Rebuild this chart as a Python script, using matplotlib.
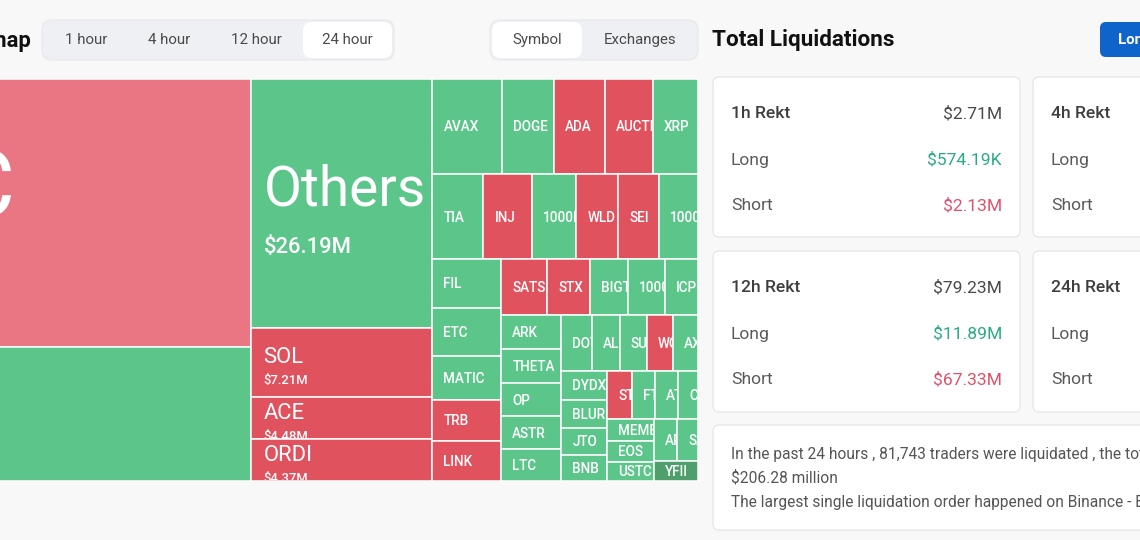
import matplotlib
matplotlib.use('Agg')
import matplotlib.pyplot as plt
from matplotlib.patches import Rectangle, FancyBboxPatch
from matplotlib.transforms import Bbox

plt.rcParams['font.family'] = ['Roboto', 'DejaVu Sans']

# ---------------- data ----------------
symbols = ['BTC', 'ETH', 'Others', 'SOL', 'ACE', 'ORDI',
           'AVAX', 'DOGE', 'ADA', 'AUCTION', 'XRP',
           'TIA', 'INJ', '1000PEPE', 'WLD', 'SEI', '1000BONK',
           'FIL', 'ETC', 'MATIC', 'TRB', 'LINK',
           'SATS', 'STX', 'BIGTIME', '1000SHIB', 'ICP',
           'ARK', 'THETA', 'OP', 'ASTR', 'LTC',
           'DOT', 'ALGO', 'SUI', 'WOO', 'AXS',
           'DYDX', 'BLUR', 'JTO', 'BNB',
           'STRK', 'FTM', 'ATOM', 'CFX',
           'MEME', 'EOS', 'USTC', 'APT', 'SAND', 'YFII']
values_musd = [65.37, 32.68, 26.19, 7.21, 4.48, 4.37,
               3.86, 2.85, 2.84, 2.65, 2.48,
               2.52, 2.42, 2.17, 2.07, 2.02, 1.93,
               1.94, 1.93, 1.76, 1.64, 1.60,
               1.50, 1.40, 1.24, 1.20, 1.07,
               1.18, 1.18, 1.15, 1.15, 1.11,
               0.99, 0.88, 0.88, 0.83, 0.80,
               0.77, 0.75, 0.74, 0.68,
               0.70, 0.64, 0.64, 0.56,
               0.59, 0.58, 0.52, 0.56, 0.51, 0.51]
short_dominant = ['BTC', 'SOL', 'ACE', 'ORDI', 'ADA', 'AUCTION', 'INJ', 'WLD', 'SEI',
                  'TRB', 'LINK', 'SATS', 'STX', 'WOO', 'STRK']

time_tabs = ['1 hour', '4 hour', '12 hour', '24 hour']
group_tabs = ['Symbol', 'Exchanges']
rekt_periods = ['1h Rekt', '4h Rekt', '12h Rekt', '24h Rekt']
rekt_total = ['$2.71M', None, '$79.23M', None]
rekt_long = ['$574.19K', None, '$11.89M', None]
rekt_short = ['$2.13M', None, '$67.33M', None]
summary_lines = ['In the past 24 hours , 81,743 traders were liquidated , the total liquidations comes in at',
                 '$206.28 million',
                 'The largest single liquidation order happened on Binance - BTCUSDT value $4.21M']

# treemap nesting (H = side by side, V = stacked)
tree = ('H', [
    ('V', ['BTC', 'ETH']),
    ('V', ['Others', 'SOL', 'ACE', 'ORDI']),
    ('V', [
        ('H', ['AVAX', 'DOGE', 'ADA', 'AUCTION', 'XRP']),
        ('H', ['TIA', 'INJ', '1000PEPE', 'WLD', 'SEI', '1000BONK']),
        ('H', [
            ('V', ['FIL', 'ETC', 'MATIC', 'TRB', 'LINK']),
            ('V', [
                ('H', ['SATS', 'STX', 'BIGTIME', '1000SHIB', 'ICP']),
                ('H', [
                    ('V', ['ARK', 'THETA', 'OP', 'ASTR', 'LTC']),
                    ('V', [
                        ('H', ['DOT', 'ALGO', 'SUI', 'WOO', 'AXS']),
                        ('H', [
                            ('V', ['DYDX', 'BLUR', 'JTO', 'BNB']),
                            ('V', [
                                ('H', ['STRK', 'FTM', 'ATOM', 'CFX']),
                                ('H', [
                                    ('V', ['MEME', 'EOS', 'USTC']),
                                    ('V', [('H', ['APT', 'SAND']), 'YFII']),
                                ]),
                            ]),
                        ]),
                    ]),
                ]),
            ]),
        ]),
    ]),
])

# ---------------- style ----------------
W, H = 1140, 540
GREEN = '#5CC68A'
RED = '#E1525F'
color_override = {'BTC': '#E97682', 'YFII': '#4E9F6C'}
big_label_px = {'BTC': 92, 'ETH': 60, 'Others': 55, 'SOL': 22, 'ACE': 22, 'ORDI': 22}
value_px = {'BTC': 30, 'ETH': 22, 'Others': 22, 'SOL': 13, 'ACE': 13, 'ORDI': 13}
SMALL_PX = 13.5
PT = 0.72  # px -> pt at 100 dpi

TM_RIGHT, TM_TOP, TM_BOTTOM = 698, 79, 481
AREA_PER_M = 1722.0  # px^2 per $1M

fig = plt.figure(figsize=(W / 100, H / 100), dpi=100)
fig.patch.set_facecolor('#F8F8F8')
ax = fig.add_axes([0, 0, 1, 1])
ax.set_xlim(0, W)
ax.set_ylim(H, 0)
ax.axis('off')

val = dict(zip(symbols, values_musd))


def node_total(node):
    if isinstance(node, str):
        return val[node]
    return sum(node_total(c) for c in node[1])


def do_layout(node, x, y, w, h, out):
    if isinstance(node, str):
        out[node] = (x, y, w, h)
        return
    d, kids = node
    s = node_total(node)
    pos = x if d == 'H' else y
    for c in kids:
        f = node_total(c) / s
        if d == 'H':
            do_layout(c, pos, y, w * f, h, out)
            pos += w * f
        else:
            do_layout(c, x, pos, w, h * f, out)
            pos += h * f


def clip_bbox(x, y, w, h):
    (ax0, ay0), (ax1, ay1) = ax.transData.transform([(x + 0.8, y + 0.8), (x + w - 0.8, y + h - 0.8)])
    return Bbox.from_extents(min(ax0, ax1), min(ay0, ay1), max(ax0, ax1), max(ay0, ay1))


tm_h = TM_BOTTOM - TM_TOP
tm_w = node_total(tree) * AREA_PER_M / tm_h
cells = {}
do_layout(tree, TM_RIGHT - tm_w, TM_TOP, tm_w, tm_h, cells)

for sym in symbols:
    x, y, w, h = cells[sym]
    col = color_override.get(sym, RED if sym in short_dominant else GREEN)
    r = Rectangle((x, y), w, h, facecolor=col, edgecolor='white', lw=1.1, zorder=2)
    ax.add_patch(r)
    cy = y + h / 2
    cb = clip_bbox(x, y, w, h)
    texts = []
    if sym in big_label_px:
        fs = big_label_px[sym]
        texts.append(ax.text(x + 12, cy + 0.03 * fs, sym, color='white',
                             fontsize=fs * PT, va='baseline', ha='left', zorder=3))
        vf = value_px[sym]
        texts.append(ax.text(x + 12, cy + 0.74 * fs + 1 + 0.36 * vf, f'${val[sym]:.2f}M',
                             color='white', fontsize=vf * PT, va='baseline', ha='left',
                             zorder=3, fontweight='medium'))
    else:
        texts.append(ax.text(x + 11, cy + 0.36 * SMALL_PX, sym, color='white',
                             fontsize=SMALL_PX * PT, va='baseline', ha='left', zorder=3,
                             fontweight='medium'))
    for t in texts:
        t.set_clip_on(True)
        t.set_clip_path(None)
        t.set_clip_box(cb)

# ---------------- header left ----------------
ax.text(31, 41, 'Liquidation Heatmap', ha='right', va='center', fontsize=22 * PT,
        fontweight='bold', color='#111111')


def pill(x0, y0, x1, y1, fc, ec='none', r=9, z=1):
    p = FancyBboxPatch((x0, y0), x1 - x0, y1 - y0,
                       boxstyle=f'round,pad=0,rounding_size={r}',
                       facecolor=fc, edgecolor=ec, lw=0.8, zorder=z)
    ax.add_patch(p)
    return p


pill(42, 20, 394, 60, '#EEF0F3', ec='#E6E8EB', r=10)
pill(303, 22, 392, 58, 'white', r=9, z=2)
for lab, cx in zip(time_tabs, [86, 169, 256, 347]):
    ax.text(cx, 40, lab, ha='center', va='center', fontsize=15 * PT, color='#4A4A4A', zorder=3)

pill(490, 20, 698, 60, '#EEF0F3', ec='#E6E8EB', r=10)
pill(492, 22, 582, 58, 'white', r=9, z=2)
for lab, cx in zip(group_tabs, [537, 640]):
    ax.text(cx, 40, lab, ha='center', va='center', fontsize=15 * PT, color='#4A4A4A', zorder=3)

# ---------------- right panel ----------------
ax.text(712, 40, 'Total Liquidations', ha='left', va='center', fontsize=22.5 * PT,
        fontweight='bold', color='#111111')
pill(1100, 22, 1170, 57, '#0F64CC', r=6)
ax.text(1118, 40, 'Long/Short', ha='left', va='center', fontsize=15 * PT,
        fontweight='bold', color='white', zorder=3)

card_boxes = [(713, 77, 1020, 237), (1033, 77, 1360, 237),
              (713, 251, 1020, 412), (1033, 251, 1360, 412)]
for i, (x0, y0, x1, y1) in enumerate(card_boxes):
    pill(x0, y0, x1, y1, 'white', ec='#E4E4E4', r=6)
    lx = x0 + 18
    rx = x1 - 18
    ax.text(lx, y0 + 37, rekt_periods[i], ha='left', va='center', fontsize=17.5 * PT,
            color='#3E3E3E', fontweight='medium', zorder=3)
    ax.text(lx, y0 + 83, 'Long', ha='left', va='center', fontsize=17.5 * PT, color='#5A5A5A', zorder=3)
    ax.text(lx, y0 + 129, 'Short', ha='left', va='center', fontsize=17.5 * PT, color='#5A5A5A', zorder=3)
    if rekt_total[i] is not None:
        ax.text(rx, y0 + 37, rekt_total[i], ha='right', va='center', fontsize=17.5 * PT,
                color='#4A4A4A', zorder=3)
        ax.text(rx, y0 + 83, rekt_long[i], ha='right', va='center', fontsize=17.5 * PT,
                color='#2BAA86', zorder=3)
        ax.text(rx, y0 + 129, rekt_short[i], ha='right', va='center', fontsize=17.5 * PT,
                color='#E2506A', zorder=3)

pill(713, 425, 1360, 530, 'white', ec='#E4E4E4', r=6)
for k, line in enumerate(summary_lines):
    ax.text(731, 455 + k * 23, line, ha='left', va='center', fontsize=15.5 * PT,
            color='#555555', zorder=3)

fig.savefig('out.png', dpi=100, facecolor=fig.get_facecolor())
